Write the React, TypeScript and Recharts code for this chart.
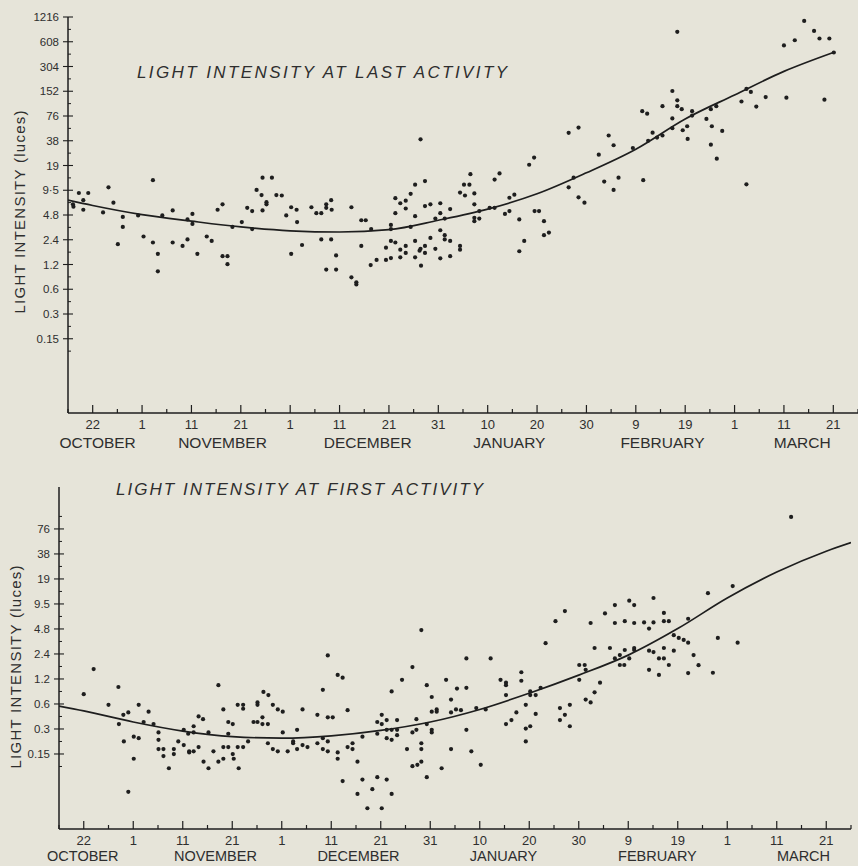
import React from 'react';
import { ComposedChart, Scatter, Line, XAxis, YAxis } from 'recharts';

// ---- axis data ----
const dayTickValues = [-5, 0, 5, 10, 15, 20, 25, 30, 35, 40, 45, 50, 55, 60, 65, 70, 75, 80, 85, 90, 95, 100, 105, 110, 115, 120, 125, 130, 135, 140, 145, 150, 155];
const dayMajorValues = [0, 10, 20, 30, 40, 50, 60, 70, 80, 90, 100, 110, 120, 130, 140, 150];
const dayTickLabels = ['22', '1', '11', '21', '1', '11', '21', '31', '10', '20', '30', '9', '19', '1', '11', '21'];
const monthNames = ['OCTOBER', 'NOVEMBER', 'DECEMBER', 'JANUARY', 'FEBRUARY', 'MARCH'];
const lastMonthCenters = [1.0, 26.3, 55.7, 84.4, 115.4, 143.7];
const firstMonthCenters = [-0.2, 26.6, 55.5, 84.8, 115.9, 145.4];

const lastYTicks = [0.1484375, 0.296875, 0.59375, 1.1875, 2.375, 4.75, 9.5, 19, 38, 76, 152, 304, 608, 1216];
const lastYLabels = ['0.15', '0.3', '0.6', '1.2', '2.4', '4.8', '9·5', '19', '38', '76', '152', '304', '608', '1216'];
const lastYMinor = [0.10496, 0.2099, 0.4198, 0.8397, 1.679, 3.359, 6.718, 13.435, 26.87, 53.74, 107.5, 214.96, 429.9, 859.8];
const firstYTicks = [0.1484375, 0.296875, 0.59375, 1.1875, 2.375, 4.75, 9.5, 19, 38, 76];
const firstYLabels = ['0.15', '0.3', '0.6', '1.2', '2.4', '4.8', '9.5', '19', '38', '76'];
const firstYMinor = [0.10496, 0.2099, 0.4198, 0.8397, 1.679, 3.359, 6.718, 13.435, 26.87, 53.74, 107.5];
const yDomainLast: [number, number] = [0.018554688, 1216];
const yDomainFirst: [number, number] = [0.018554688, 243];
const xDomain: [number, number] = [-5, 155];

// ---- series data: [day since Oct 22, light intensity] ----
const lastActivityPoints: [number, number][] = [
  [-4, 6.4], [-3.9, 6.0], [-2.8, 8.8], [-1.9, 7.2], [-1.9, 5.5], [-0.9, 8.8], [2.1, 5.1], [3.2, 10.3], [4.2, 6.7], [5.1, 2.1],
  [6.1, 4.5], [6.1, 3.4], [9.2, 4.7], [10.3, 2.6], [12.2, 12.6], [12.2, 2.2], [13.2, 1.6], [13.2, 0.98], [14.1, 4.7], [16.2, 5.4],
  [16.2, 2.2], [18.2, 2.0], [19.2, 4.2], [19.2, 2.4], [20.2, 4.9], [20.2, 3.7], [21.2, 1.6], [23.1, 2.6], [24.1, 2.3], [25.3, 5.5],
  [26.3, 6.4], [26.3, 1.5], [27.3, 1.5], [27.3, 1.2], [28.3, 3.4], [30.2, 3.9], [31.3, 5.8], [32.3, 5.3], [32.3, 3.2], [33.2, 9.6],
  [34.2, 8.3], [34.4, 13.5], [34.4, 5.4], [35.2, 6.8], [35.2, 6.4], [36.3, 13.5], [37.2, 8.3], [38.3, 8.2], [39.2, 4.7], [40.2, 5.9],
  [40.2, 1.6], [41.3, 5.5], [41.4, 3.9], [42.4, 2.05], [44.3, 5.9], [45.3, 5.0], [46.3, 5.0], [46.3, 2.4], [47.3, 6.4], [47.3, 5.8],
  [47.3, 1.03], [48.3, 7.2], [48.4, 5.5], [48.3, 2.4], [49.3, 1.53], [49.3, 1.03], [52.4, 5.9], [52.4, 0.83], [53.4, 0.72], [53.4, 0.68],
  [54.4, 4.1], [55.3, 4.1], [54.4, 2.0], [56.4, 3.2], [56.3, 1.17], [57.5, 1.35], [59.4, 1.9], [59.4, 1.35], [60.4, 3.6], [60.4, 3.2],
  [60.4, 2.3], [60.4, 1.42], [61.3, 7.6], [61.3, 5.0], [61.3, 2.2], [62.3, 6.6], [62.3, 1.8], [62.3, 1.45], [63.4, 7.1], [63.4, 5.7],
  [63.4, 2.0], [63.4, 1.64], [64.4, 8.6], [64.4, 3.4], [65.3, 11.1], [65.3, 4.6], [65.3, 2.3], [65.3, 1.45], [66.4, 39.5], [66.4, 1.84],
  [66.2, 1.75], [66.5, 1.15], [67.3, 12.3], [67.3, 6.1], [67.3, 2.0], [67.3, 1.64], [68.4, 6.4], [68.4, 2.5], [69.4, 4.3], [69.4, 1.84],
  [70.4, 6.6], [70.4, 5.0], [70.4, 3.1], [70.4, 1.41], [71.3, 4.3], [71.3, 2.7], [71.3, 2.4], [72.4, 5.6], [72.4, 2.3], [72.4, 1.5],
  [74.4, 8.9], [74.4, 2.0], [74.4, 1.8], [75.2, 11.1], [75.4, 8.2], [76.3, 11.1], [76.5, 14.9], [77.3, 8.7], [77.3, 6.4], [77.3, 4.4],
  [77.3, 4.0], [78.3, 5.3], [78.3, 4.3], [80.4, 5.8], [81.4, 12.8], [81.4, 5.8], [82.4, 15.2], [83.5, 4.9], [84.4, 7.7], [84.4, 5.3],
  [85.4, 8.4], [86.4, 4.2], [86.4, 1.72], [87.4, 2.3], [88.4, 19.4], [89.4, 23.7], [89.5, 5.3], [90.4, 5.3], [91.4, 4.0], [91.4, 2.7],
  [92.4, 2.9], [96.4, 47.5], [96.4, 10.3], [97.4, 13.5], [98.4, 55], [98.4, 7.8], [99.6, 6.7], [102.5, 25.7], [103.6, 12.1], [104.5, 44],
  [105.5, 33.5], [105.5, 9.6], [106.5, 13.5], [109.4, 31], [111.5, 12.6], [111.3, 87], [112.3, 81], [113.4, 47.6], [112.5, 38], [114.3, 41.5],
  [115.4, 100], [115.4, 44], [117.4, 153], [117.4, 71], [117.4, 54], [118.4, 803], [118.4, 118], [118.4, 100], [119.3, 92], [119.5, 51],
  [120.4, 57], [120.5, 40], [121.4, 87], [121.4, 77], [124.3, 70], [125.2, 92], [125.4, 57], [125.2, 34], [126.3, 100], [126.4, 23],
  [127.5, 50], [131.4, 114], [132.4, 162], [132.4, 11.2], [133.3, 149], [134.4, 99], [136.3, 129], [140, 549], [140.5, 127], [142.2, 634],
  [144.1, 1090], [146.1, 824], [147.2, 666], [148.2, 120], [149.2, 666], [150.1, 450],
];

const lastActivityCurve: [number, number][] = [
  [-5, 7.2], [0, 6.2], [10, 4.8], [20, 4.0], [30, 3.4], [40, 3.05], [50, 2.95], [60, 3.15], [70, 4.1], [80, 5.6],
  [90, 8.6], [100, 15.5], [110, 30], [120, 70], [130, 137], [140, 265], [150, 450],
];

const firstActivityPoints: [number, number][] = [
  [0, 0.78], [2.0, 1.56], [5.0, 0.58], [7.0, 0.95], [7.1, 0.34], [8.0, 0.44], [9.0, 0.47], [8.1, 0.21], [9.0, 0.052], [10.1, 0.24],
  [10.1, 0.13], [11.1, 0.58], [11.1, 0.23], [12.1, 0.36], [13.1, 0.48], [14.1, 0.34], [15.1, 0.27], [15.1, 0.22], [15.1, 0.17], [16.1, 0.17],
  [16.1, 0.14], [17.2, 0.10], [18.2, 0.17], [18.2, 0.148], [19.1, 0.21], [20.2, 0.29], [20.2, 0.19], [21.1, 0.26], [21.3, 0.16], [21.3, 0.155],
  [22.2, 0.32], [22.2, 0.27], [22.2, 0.16], [23.2, 0.18], [23.2, 0.42], [24.1, 0.39], [24.2, 0.12], [25.2, 0.27], [25.2, 0.10], [26.2, 0.16],
  [27.2, 1.0], [27.2, 0.12], [28.2, 0.51], [28.2, 0.18], [28.2, 0.13], [29.2, 0.36], [29.2, 0.26], [29.2, 0.18], [30.1, 0.34], [30.1, 0.148],
  [30.3, 0.13], [31.1, 0.58], [31.1, 0.18], [31.3, 0.10], [32.2, 0.58], [32.2, 0.52], [32.2, 0.18], [33.2, 0.21], [34.3, 0.36], [35.1, 0.62],
  [35.1, 0.58], [35.1, 0.36], [36.1, 0.41], [36.1, 0.34], [36.3, 0.83], [37.2, 0.34], [37.2, 0.20], [37.3, 0.76], [38.2, 0.58], [38.2, 0.17],
  [39.2, 0.51], [39.2, 0.16], [40.2, 0.48], [40.2, 0.27], [41.2, 0.16], [42.3, 0.21], [42.3, 0.2], [43.1, 0.29], [43.1, 0.17], [44.2, 0.51],
  [44.2, 0.19], [45.2, 0.18], [47.2, 0.44], [47.2, 0.2], [48.3, 0.88], [48.3, 0.23], [48.3, 0.17], [49.3, 0.41], [49.3, 0.21], [49.3, 0.16],
  [49.3, 2.28], [50.3, 0.41], [51.3, 1.33], [51.3, 0.155], [51.3, 0.13], [52.3, 1.23], [52.3, 0.07], [53.3, 0.5], [53.3, 0.18], [54.3, 0.2],
  [54.3, 0.17], [55.3, 0.12], [55.3, 0.049], [56.3, 0.24], [56.3, 0.073], [57.3, 0.033], [58.3, 0.056], [59.3, 0.36], [59.3, 0.26], [59.3, 0.078],
  [60.2, 0.44], [60.2, 0.34], [60.2, 0.033], [61.2, 0.38], [61.2, 0.29], [61.2, 0.23], [61.2, 0.073], [62.2, 0.84], [62.2, 0.29], [62.2, 0.22],
  [62.2, 0.049], [63.3, 0.38], [63.3, 0.29], [63.3, 0.25], [64.3, 1.16], [65.3, 0.17], [66.4, 1.65], [66.4, 0.27], [66.4, 0.106], [67.2, 0.39],
  [67.2, 0.29], [67.4, 0.11], [68.2, 4.6], [68.2, 0.2], [68.2, 0.17], [68.2, 0.12], [69.3, 1.0], [69.3, 0.34], [69.3, 0.078], [70.3, 0.72],
  [70.3, 0.48], [70.3, 0.29], [70.3, 0.27], [71.3, 0.51], [71.3, 0.48], [72.3, 0.1], [73.2, 1.16], [74.2, 0.67], [74.2, 0.47], [74.2, 0.17],
  [75.2, 0.51], [75.4, 0.91], [76.2, 0.5], [77.3, 2.1], [77.3, 0.93], [77.3, 0.29], [78.3, 0.16], [79.3, 0.53], [80.2, 0.11], [81.2, 0.51],
  [82.2, 2.1], [84.2, 1.16], [85.3, 1.07], [85.3, 1.0], [85.3, 0.76], [85.3, 0.34], [86.4, 0.38], [87.4, 0.47], [88.4, 1.43], [88.4, 1.13],
  [89.3, 0.58], [89.3, 0.30], [89.3, 0.21], [90.2, 0.84], [90.2, 0.76], [90.2, 0.32], [91.3, 0.76], [91.3, 0.45], [92.3, 0.93], [93.3, 3.2],
  [95.3, 5.9], [96.2, 0.53], [96.2, 0.38], [97.2, 7.8], [97.2, 0.44], [98.2, 0.58], [98.2, 0.32], [100.1, 1.75], [100.1, 1.16], [101.2, 1.75],
  [101.4, 1.53], [101.4, 0.67], [102.4, 5.6], [102.4, 0.62], [103.2, 2.8], [103.2, 0.82], [104.3, 1.07], [105.3, 7.3], [106.3, 2.8], [107.3, 9.2],
  [107.3, 5.6], [107.3, 2.1], [108.3, 2.3], [108.3, 1.75], [109.2, 1.75], [109.3, 5.9], [109.3, 2.65], [110.2, 10.4], [110.2, 2.1], [111.2, 9.2],
  [111.2, 5.6], [111.2, 2.8], [111.2, 2.65], [113.2, 5.7], [114.2, 4.8], [114.2, 2.6], [114.2, 1.53], [115.1, 11.2], [115.1, 5.7], [115.1, 2.5],
  [116.2, 2.1], [116.2, 1.33], [117.2, 7.4], [117.2, 5.9], [118.2, 5.9], [117.2, 2.8], [117.2, 2.1], [118.2, 1.75], [119.2, 4.0], [119.2, 2.6],
  [120.2, 3.7], [121.2, 3.5], [122.1, 6.3], [122.1, 3.25], [122.1, 1.4], [123.2, 2.3], [124.2, 1.74], [126.1, 12.8], [127.1, 1.41], [128.1, 3.7],
  [131.1, 15.6], [132.1, 3.25], [142.9, 106],
];

const firstActivityCurve: [number, number][] = [
  [-5, 0.56], [0, 0.49], [10, 0.36], [20, 0.28], [30, 0.24], [40, 0.23], [50, 0.245], [60, 0.285], [70, 0.36], [80, 0.51],
  [90, 0.80], [100, 1.32], [110, 2.3], [120, 4.8], [130, 11.2], [140, 23], [150, 41], [155, 52],
];

// ---- styling ----
const BG = '#e6e4d9';
const INK = '#1e1e1e';
const TEXT = '#2e2e2e';
const FONT = '"Liberation Sans", Arial, sans-serif';

const toObjects = (pts: [number, number][]) => pts.map(([d, v]) => ({ d, v }));

function makeXTick(monthCenters: number[], dayLabelDy: number, monthDy: number, monthSize: number) {
  return (props: any) => {
    const { x, y, payload } = props;
    const value = payload.value as number;
    const mi = monthCenters.indexOf(value);
    if (mi >= 0) {
      return (
        <text x={x} y={y + monthDy} textAnchor="middle" fontSize={monthSize} fill={TEXT} fontFamily={FONT}>
          {monthNames[mi]}
        </text>
      );
    }
    const di = dayMajorValues.indexOf(value);
    const major = di >= 0;
    return (
      <g>
        <line x1={x} x2={x} y1={y} y2={y - (major ? 8 : 4)} stroke={INK} strokeWidth={1.2} />
        {major && (
          <text x={x} y={y + dayLabelDy} textAnchor="middle" fontSize={13} fill={TEXT} fontFamily={FONT}>
            {dayTickLabels[di]}
          </text>
        )}
      </g>
    );
  };
}

function makeYTick(majors: number[], labels: string[]) {
  return (props: any) => {
    const { x, y, payload } = props;
    const value = payload.value as number;
    const idx = majors.findIndex((m) => Math.abs(m - value) / m < 1e-6);
    if (idx < 0) {
      return <line x1={x} x2={x + 3} y1={y} y2={y} stroke={INK} strokeWidth={1} />;
    }
    return (
      <g>
        <line x1={x - 5} x2={x + 5} y1={y} y2={y} stroke={INK} strokeWidth={1.1} />
        <text x={x - 9} y={y} dy={4} textAnchor="end" fontSize={11.5} fill={TEXT} fontFamily={FONT}>
          {labels[idx]}
        </text>
      </g>
    );
  };
}

const dotShape = (p: any) => <circle cx={p.cx} cy={p.cy} r={2.1} fill={INK} />;

interface PanelProps {
  width: number;
  height: number;
  margin: { top: number; right: number; bottom: number; left: number };
  yWidth: number;
  yDomain: [number, number];
  yTicks: number[];
  yMinor: number[];
  yLabels: string[];
  points: [number, number][];
  curve: [number, number][];
  monthCenters: number[];
  title: string;
  titleX: number;
  titleY: number;
  titleLen: number;
  ylabX: number;
  ylabY: number;
  dayDy: number;
  monthDy: number;
  monthSize: number;
}

function Panel(p: PanelProps) {
  const xTicks = [...dayTickValues, ...p.monthCenters].sort((a, b) => a - b);
  const yTicksAll = [...p.yTicks, ...p.yMinor].sort((a, b) => a - b);
  return (
    <ComposedChart width={p.width} height={p.height} margin={p.margin}>
      <XAxis
        type="number"
        dataKey="d"
        domain={xDomain}
        allowDataOverflow
        ticks={xTicks}
        interval={0}
        tickSize={0}
        tickMargin={0}
        tickLine={false}
        height={37}
        axisLine={{ stroke: INK, strokeWidth: 1.5 }}
        tick={makeXTick(p.monthCenters, p.dayDy, p.monthDy, p.monthSize)}
      />
      <YAxis
        type="number"
        dataKey="v"
        scale="log"
        domain={p.yDomain}
        allowDataOverflow
        ticks={yTicksAll}
        interval={0}
        tickSize={0}
        tickMargin={0}
        tickLine={false}
        width={p.yWidth}
        axisLine={{ stroke: INK, strokeWidth: 1.5 }}
        tick={makeYTick(p.yTicks, p.yLabels)}
      />
      <Scatter data={toObjects(p.points)} dataKey="v" shape={dotShape} isAnimationActive={false} />
      <Line
        data={toObjects(p.curve)}
        dataKey="v"
        type="monotone"
        stroke={INK}
        strokeWidth={1.7}
        dot={false}
        activeDot={false}
        isAnimationActive={false}
      />
      <text
        x={p.titleX}
        y={p.titleY}
        fontSize={17}
        fontStyle="italic"
        fill={TEXT}
        fontFamily={FONT}
        textLength={p.titleLen}
        lengthAdjust="spacing"
      >
        {p.title}
      </text>
      <text
        transform={`translate(${p.ylabX},${p.ylabY}) rotate(-90)`}
        textAnchor="middle"
        fontSize={15}
        fill={TEXT}
        fontFamily={FONT}
        textLength={203}
        lengthAdjust="spacing"
      >
        LIGHT INTENSITY (luces)
      </text>
    </ComposedChart>
  );
}

export default function App() {
  return (
    <div style={{ position: 'absolute', left: 0, top: 0, width: 858, height: 866, background: BG, overflow: 'hidden' }}>
      <div style={{ position: 'absolute', left: 0, top: 0 }}>
        <Panel
          width={858}
          height={450}
          margin={{ top: 17, right: 0, bottom: 0, left: 0 }}
          yWidth={68}
          yDomain={yDomainLast}
          yTicks={lastYTicks}
          yMinor={lastYMinor}
          yLabels={lastYLabels}
          points={lastActivityPoints}
          curve={lastActivityCurve}
          monthCenters={lastMonthCenters}
          title="LIGHT INTENSITY AT LAST ACTIVITY"
          titleX={137}
          titleY={78}
          titleLen={370}
          ylabX={25}
          ylabY={212}
          dayDy={16}
          monthDy={35}
          monthSize={15.5}
        />
      </div>
      <div style={{ position: 'absolute', left: 0, top: 450 }}>
        <Panel
          width={858}
          height={416}
          margin={{ top: 37, right: 7, bottom: 0, left: 0 }}
          yWidth={59}
          yDomain={yDomainFirst}
          yTicks={firstYTicks}
          yMinor={firstYMinor}
          yLabels={firstYLabels}
          points={firstActivityPoints}
          curve={firstActivityCurve}
          monthCenters={firstMonthCenters}
          title="LIGHT INTENSITY AT FIRST ACTIVITY"
          titleX={116}
          titleY={45}
          titleLen={367}
          ylabX={21}
          ylabY={217}
          dayDy={16}
          monthDy={32}
          monthSize={14.5}
        />
      </div>
    </div>
  );
}
